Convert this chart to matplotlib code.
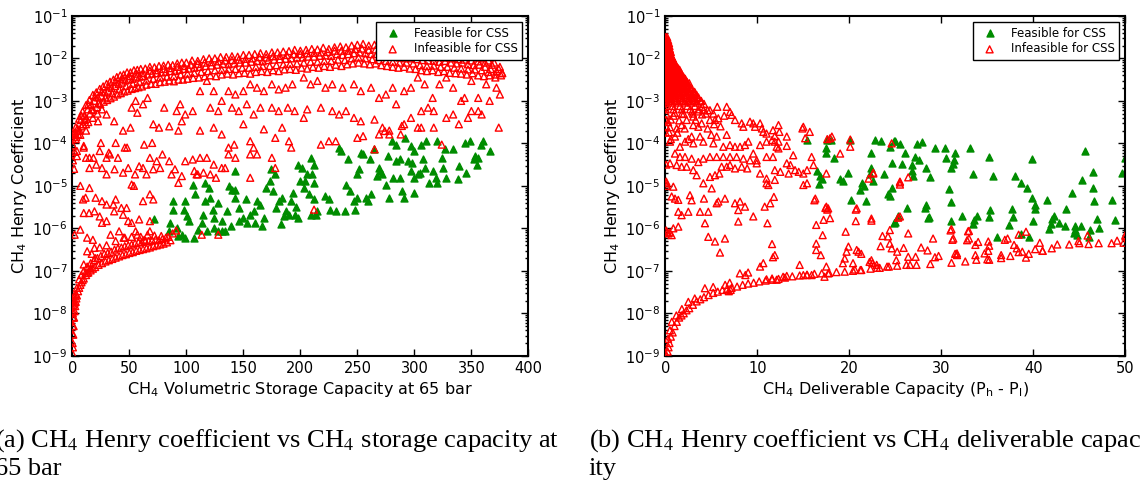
import numpy as np
import matplotlib.pyplot as plt

# points as (x, log10 of CH4 Henry coefficient)

# (a) storage capacity at 65 bar
a_feasible = [
    (72, -5.79), (88.4, -5.35), (88.4, -5.56), (86, -5.87), (85, -6.07), (91.5, -5.99),
    (93, -6.19), (96, -6.15), (99, -6.22), (99, -5.36), (98, -5.56), (101, -5.72),
    (102.5, -5.83), (105.6, -4.97), (108, -5.2), (107, -6.22), (110, -6.03), (113.5, -5.87),
    (115, -5.68), (116.6, -5.36), (116.6, -4.93), (120, -5.05), (121, -5.28), (123, -5.56),
    (124.5, -5.76), (118, -6.07), (124.5, -5.99), (127.6, -6.07), (131, -6.07), (134, -6.07),
    (131, -5.83), (135.4, -5.6), (137, -5.0), (140, -5.09), (143, -5.09), (143, -4.65),
    (143, -5.28), (146, -5.52), (146, -5.83), (150, -5.76), (153, -5.87), (156, -5.68),
    (159, -5.6), (160.5, -5.87), (162, -5.36), (165, -5.44), (168, -5.76), (170, -5.05),
    (173, -4.89), (174.6, -4.61), (176, -5.13), (178, -4.73), (179, -5.52), (181, -5.36),
    (184, -5.28), (186, -5.72), (187, -5.6), (190, -5.68), (192, -5.36), (193.5, -5.17),
    (195, -5.68), (198, -5.76), (198, -4.5), (200, -4.89), (201, -4.58), (203, -5.05),
    (204.5, -4.89), (206, -4.73), (207.5, -5.2), (209, -4.34), (210.6, -4.73), (212, -4.5),
    (212, -4.93), (212, -5.32), (214, -5.68), (209, -5.68), (215, -5.6), (221.6, -5.24),
    (225, -5.32), (226, -5.56), (231, -5.6), (236, -4.18), (234, -4.1), (239, -5.6),
    (242, -4.38), (240, -4.97), (243.5, -5.13), (247, -5.36), (248, -5.56), (250, -4.73),
    (251.6, -4.61), (253, -4.22), (255, -4.26), (250, -5.28), (257.7, -5.28), (259, -5.36),
    (261, -4.38), (262, -5.2), (265, -4.14), (269, -4.58), (267, -4.77), (270, -4.65),
    (272, -4.73), (275, -4.97), (276.5, -4.3), (278, -5.28), (280, -3.95), (281, -4.81),
    (284, -4.42), (287, -4.38), (287, -4.81), (289, -5.13), (291, -5.28), (292, -3.87),
    (294, -4.42), (297, -4.65), (298, -4.46), (300, -5.17), (300, -4.81), (303, -4.73),
    (305, -4.69), (306, -4.03), (309, -4.58), (310, -3.95), (312.5, -4.93), (316, -4.65),
    (319, -4.81), (320, -3.95), (324, -4.34), (325, -4.58), (327, -4.14), (328, -4.81),
    (334, -4.14), (339, -4.54), (338, -4.85), (344, -3.99), (345.5, -4.69), (349, -3.95),
    (352, -4.38), (353, -4.3), (355, -4.5), (358, -4.03), (360, -3.95), (366, -4.18),
    (356, -4.34), (320, -4.93), (307.5, -4.38), (284, -4.03), (297, -4.07), (300, -4.18),
    (128, -5.4), (152, -5.3), (166, -5.95), (183, -5.9), (196, -5.5), (139, -5.95),
]

a_infeasible_curve = [
    (0.2, -8.95), (0.25, -8.7), (0.3, -8.5), (0.35, -8.3), (0.45, -8.1), (0.6, -7.95),
    (0.8, -7.8), (1.0, -7.7), (0.4, -8.0), (0.6, -7.7), (1.3, -7.6),
    (0.5, -8.8), (0.8, -8.5), (1.1, -8.3), (1.5, -8.1), (2, -7.95), (2.5, -7.83), (3, -7.73),
    (3.5, -7.65), (4, -7.58), (5, -7.48), (6, -7.4), (7, -7.33), (8, -7.27), (9, -7.22),
    (10, -7.18), (12, -7.1), (14, -7.04), (16, -6.99), (18, -6.95), (20, -6.91), (23, -6.86),
    (26, -6.82), (29, -6.78), (32, -6.75), (35, -6.72), (38, -6.69), (41, -6.66), (44, -6.63),
    (47, -6.61), (50, -6.58), (53, -6.56), (56, -6.53), (59, -6.51), (62, -6.49), (65, -6.47),
    (68, -6.45), (71, -6.42), (74, -6.4), (77, -6.38), (80, -6.36), (83, -6.33),
    (1, -8.1), (2, -7.75), (3, -7.55), (4, -7.4), (6, -7.2), (8, -7.1), (10, -7.0), (13, -6.9),
    (16, -6.82), (19, -6.75), (22, -6.7), (25, -6.65), (28, -6.6), (31, -6.58), (34, -6.55),
    (37, -6.5), (40, -6.47), (43, -6.45), (46, -6.42), (49, -6.4), (52, -6.38), (55, -6.35),
    (58, -6.33), (61, -6.32), (64, -6.3), (67, -6.3), (70, -6.28), (73, -6.26), (76, -6.28),
    (79, -6.25), (10, -6.85), (17, -6.6), (24, -6.45), (30, -6.4), (38, -6.3), (45, -6.22),
    (52, -6.2), (60, -6.2), (66, -6.15), (72, -6.17), (78, -6.18), (84, -6.2), (88, -6.12),
    (86, -6.28), (82, -6.22), (91, -6.05), (13, -7.05), (20, -6.7),
]

a_infeasible_band = [
    # upper edge
    (0, -3.9), (3, -3.62), (6, -3.42), (9, -3.25), (12, -3.1), (15, -2.98), (18, -2.86),
    (21, -2.8), (24, -2.72), (27, -2.66), (30, -2.6), (33, -2.55), (36, -2.5), (39, -2.44),
    (42, -2.4), (45, -2.38), (48, -2.33), (51, -2.33), (54, -2.28), (57, -2.27), (60, -2.25),
    (64, -2.24), (68, -2.2), (72, -2.21), (76, -2.18), (80, -2.17), (84, -2.15), (88, -2.16),
    (92, -2.12), (96, -2.1), (100, -2.1), (105, -2.05), (110, -2.06), (115, -2.02), (120, -2.0),
    (125, -2.0), (130, -1.97), (135, -1.97), (140, -1.95), (145, -1.96), (150, -1.92),
    (155, -1.92), (160, -1.9), (165, -1.88), (170, -1.9), (175, -1.86), (180, -1.86),
    (185, -1.84), (190, -1.83), (195, -1.8), (200, -1.82), (205, -1.8), (210, -1.78),
    (215, -1.79), (220, -1.75), (225, -1.78), (230, -1.74), (235, -1.72), (240, -1.74),
    (245, -1.7), (250, -1.68), (255, -1.66), (260, -1.7), (265, -1.68), (270, -1.72),
    (275, -1.72), (280, -1.75), (285, -1.76), (290, -1.8), (295, -1.8), (300, -1.82),
    (305, -1.85), (310, -1.84), (315, -1.88), (320, -1.86), (325, -1.9), (330, -1.88),
    (335, -1.92), (340, -1.92), (345, -1.95), (350, -1.96), (355, -1.98), (360, -2.0),
    (365, -2.05), (370, -2.1), (375, -2.2),
    # between upper edge and middle
    (2, -3.75), (8, -3.35), (14, -3.08), (20, -2.9), (26, -2.78), (32, -2.66), (38, -2.55),
    (44, -2.48), (50, -2.42), (56, -2.36), (62, -2.34), (68, -2.29), (74, -2.28), (80, -2.25),
    (86, -2.23), (92, -2.2), (98, -2.18), (104, -2.15), (110, -2.13), (116, -2.1),
    (122, -2.09), (128, -2.07), (134, -2.05), (140, -2.04), (146, -2.03), (152, -2.01),
    (158, -2.0), (164, -1.97), (170, -1.98), (176, -1.95), (182, -1.94), (188, -1.92),
    (194, -1.9), (200, -1.9), (206, -1.88), (212, -1.87), (218, -1.86), (224, -1.85),
    (230, -1.82), (236, -1.82), (242, -1.82), (248, -1.78), (254, -1.77), (260, -1.8),
    (266, -1.79), (272, -1.82), (278, -1.85), (284, -1.86), (290, -1.9), (296, -1.9),
    (302, -1.92), (308, -1.95), (314, -1.96), (320, -1.97), (326, -1.98), (332, -2.0),
    (338, -2.02), (344, -2.03), (350, -2.05), (356, -2.07), (362, -2.1), (368, -2.15),
    (374, -2.25),
    # middle
    (1.5, -3.85), (4.5, -3.65), (7.5, -3.45), (10.5, -3.35), (13.5, -3.2), (16.5, -3.1),
    (19.5, -3.0), (22.5, -2.92), (25.5, -2.88), (28.5, -2.8), (31.5, -2.76), (34.5, -2.7),
    (37.5, -2.65), (40.5, -2.6), (43.5, -2.57), (46.5, -2.52), (49.5, -2.5), (53, -2.48),
    (56, -2.45), (59, -2.43), (62, -2.42), (66, -2.38), (70, -2.36), (74, -2.35), (78, -2.33),
    (82, -2.32), (86, -2.3), (90, -2.3), (94, -2.27), (98, -2.25), (102, -2.24), (107, -2.22),
    (112, -2.2), (117, -2.18), (122, -2.17), (127, -2.15), (132, -2.13), (137, -2.14),
    (142, -2.12), (147, -2.1), (152, -2.1), (157, -2.08), (162, -2.06), (167, -2.07),
    (172, -2.04), (177, -2.03), (182, -2.02), (187, -2.01), (192, -2.0), (197, -1.98),
    (202, -1.98), (207, -1.96), (212, -1.96), (217, -1.94), (222, -1.93), (227, -1.94),
    (232, -1.9), (237, -1.92), (242, -1.9), (247, -1.88), (252, -1.86), (257, -1.88),
    (262, -1.9), (267, -1.9), (272, -1.92), (277, -1.95), (282, -1.96), (287, -1.98),
    (292, -2.0), (297, -2.0), (302, -2.02), (307, -2.04), (312, -2.05), (317, -2.06),
    (322, -2.08), (327, -2.06), (332, -2.1), (337, -2.12), (342, -2.1), (347, -2.14),
    (352, -2.16), (357, -2.15), (362, -2.2), (367, -2.25), (372, -2.3), (377, -2.35),
    # between middle and lower edge
    (5, -3.78), (11, -3.45), (17, -3.2), (23, -3.05), (29, -2.92), (35, -2.82), (41, -2.73),
    (47, -2.65), (53, -2.6), (59, -2.56), (65, -2.52), (71, -2.48), (77, -2.45), (83, -2.43),
    (89, -2.42), (95, -2.38), (101, -2.36), (107, -2.34), (113, -2.32), (119, -2.3),
    (125, -2.28), (131, -2.27), (137, -2.25), (143, -2.25), (149, -2.22), (155, -2.22),
    (161, -2.2), (167, -2.18), (173, -2.18), (179, -2.16), (185, -2.14), (191, -2.13),
    (197, -2.12), (203, -2.1), (209, -2.08), (215, -2.08), (221, -2.06), (227, -2.06),
    (233, -2.03), (239, -2.04), (245, -2.0), (251, -1.98), (257, -2.0), (263, -2.02),
    (269, -2.04), (275, -2.06), (281, -2.08), (287, -2.1), (293, -2.1), (299, -2.12),
    (305, -2.16), (311, -2.18), (317, -2.17), (323, -2.2), (329, -2.2), (335, -2.22),
    (341, -2.24), (347, -2.26), (353, -2.26), (359, -2.28), (365, -2.32), (371, -2.38),
    # lower edge
    (0.5, -4.05), (3.5, -3.85), (6.5, -3.7), (9.5, -3.55), (12.5, -3.42), (15.5, -3.3),
    (18.5, -3.22), (21.5, -3.15), (24.5, -3.08), (27.5, -3.02), (30.5, -2.98), (33.5, -2.94),
    (36.5, -2.9), (39.5, -2.85), (42.5, -2.82), (45.5, -2.78), (48.5, -2.76), (52, -2.72),
    (55, -2.7), (58, -2.68), (61, -2.66), (65, -2.62), (69, -2.6), (73, -2.6), (77, -2.56),
    (81, -2.55), (85, -2.52), (89, -2.54), (93, -2.5), (97, -2.5), (101, -2.48), (106, -2.46),
    (111, -2.45), (116, -2.42), (121, -2.4), (126, -2.42), (131, -2.38), (136, -2.36),
    (141, -2.38), (146, -2.35), (151, -2.34), (156, -2.36), (161, -2.32), (166, -2.3),
    (171, -2.32), (176, -2.28), (181, -2.3), (186, -2.26), (191, -2.25), (196, -2.27),
    (201, -2.22), (206, -2.24), (211, -2.2), (216, -2.22), (221, -2.18), (226, -2.2),
    (231, -2.15), (236, -2.18), (241, -2.14), (246, -2.12), (251, -2.1), (256, -2.12),
    (261, -2.14), (266, -2.12), (271, -2.16), (276, -2.18), (281, -2.2), (286, -2.22),
    (291, -2.2), (296, -2.24), (301, -2.25), (306, -2.28), (311, -2.3), (316, -2.28),
    (321, -2.32), (326, -2.3), (331, -2.34), (336, -2.35), (341, -2.36), (346, -2.38),
    (351, -2.35), (356, -2.4), (361, -2.42), (366, -2.4), (371, -2.45), (376, -2.4),
]

a_infeasible_scatter = [
    (2, -3.75), (4, -4.18), (10, -4.1), (12, -4.34), (15, -4.34), (18.5, -4.34), (24, -4.18),
    (30, -4.34), (33, -4.26), (40, -4.34), (46, -4.1), (48, -4.1), (5, -3.7), (12, -3.55),
    (22.5, -3.48), (30, -3.32), (36.7, -3.48), (44.5, -3.7), (51, -3.63), (10, -4.06),
    (25, -3.99), (32, -4.22), (38, -3.99), (15, -4.58), (21, -4.5), (26, -4.58), (30, -4.73),
    (37, -4.61), (44.5, -4.69), (49, -4.58), (55, -4.73), (62, -4.58), (65, -4.73),
    (58.6, -4.54), (7, -5.0), (15, -5.05), (11.6, -5.28), (9.4, -5.32), (20.4, -5.28),
    (26, -5.36), (30, -5.44), (36, -5.44), (38, -5.32), (43, -5.52), (47.6, -5.52),
    (52, -4.97), (54, -5.0), (62, -5.36), (71, -5.32), (68, -5.2), (10, -5.64), (14.7, -5.64),
    (19.4, -5.6), (24, -5.72), (30, -5.83), (36.7, -5.6), (44.5, -5.68), (49, -5.83),
    (52, -5.87), (58.6, -5.79), (68, -5.83), (2, -6.15), (7, -6.03), (13, -6.22), (18, -6.27),
    (26, -5.87), (33.5, -6.15), (41, -6.07), (46, -6.22), (55.5, -6.07), (57, -6.15),
    (63, -6.27), (68, -6.07), (13, -6.54), (19.4, -6.46), (11.6, -7.05), (16, -6.93),
    (1, -3.8), (3, -3.9), (2, -4.2), (7, -3.8), (4, -4.3), (8, -3.6), (12, -3.7), (1.5, -4.6),
    (0.5, -4.4), (14, -3.5), (18, -3.4), (22, -3.3), (26, -3.2),
    (52, -3.16), (57, -3.28), (62, -3.08), (55.5, -3.0), (66, -2.93), (71, -3.55), (76, -3.63),
    (80.6, -3.16), (85, -3.6), (91.5, -3.24), (96, -3.48), (93, -3.7), (94.6, -3.08),
    (99, -3.32), (105.6, -3.24), (63, -4.03), (70, -3.99), (74, -4.42), (68, -4.34),
    (79, -4.26), (71, -4.61), (77, -4.58), (85, -4.42), (87, -4.73), (90, -4.61), (93, -4.93),
    (96, -4.77), (99, -4.42), (105.6, -4.38), (107, -4.65), (110, -4.73),
    (112, -2.77), (118, -2.53), (124, -2.77), (131, -3.0), (137, -2.77), (143, -2.85),
    (150, -2.77), (156, -2.61), (162, -2.69), (168, -2.77), (175, -2.61), (181, -2.73),
    (187, -2.69), (193, -2.61), (121, -3.16), (128, -3.24), (140, -3.16), (146, -3.24),
    (153, -3.08), (159, -3.32), (165, -3.16), (175, -3.16), (181, -3.24), (189, -3.16),
    (195, -3.24), (203, -3.4), (206, -3.2), (112, -3.7), (124, -3.63), (131, -3.79),
    (137, -4.1), (142, -4.03), (150, -3.55), (156, -3.95), (159, -4.1), (168, -3.67),
    (178, -3.87), (184, -3.63), (190, -3.95), (192, -4.1), (112, -4.34), (118, -4.34),
    (124, -4.5), (131, -4.58), (137, -4.26), (143, -4.34), (156, -4.26), (162, -4.26),
    (175, -4.34), (178, -4.58), (109, -4.73), (115, -4.69), (121, -4.73), (126, -4.81),
    (134, -4.58), (156, -4.81), (128, -6.15), (113.5, -6.15),
    (203, -2.45), (209, -2.61), (215, -2.53), (222, -2.69), (228, -2.61), (237, -2.69),
    (247, -2.61), (253, -2.77), (262, -2.69), (269, -2.93), (275, -2.85), (281, -2.69),
    (291, -2.77), (297, -2.69), (218, -3.16), (228, -3.24), (234, -3.32), (240, -3.24),
    (247, -3.4), (253, -3.48), (265, -3.44), (272, -3.63), (278, -3.7), (284, -3.08),
    (291, -3.55), (297, -3.4), (303, -3.63), (218, -4.03), (225, -3.95), (231, -3.95),
    (250, -3.87), (255, -3.83), (265, -4.14), (269, -3.79), (274, -3.71), (278, -3.79),
    (288, -3.79), (289, -3.59), (212, -5.56),
    (303, -2.45), (309, -2.61), (316, -2.93), (322, -2.61), (328, -2.45), (334, -2.69),
    (341, -3.0), (344, -2.93), (350, -2.53), (356, -2.93), (363, -2.61), (366, -3.0),
    (372, -2.69), (375, -2.85), (377, -2.34), (306, -3.24), (312, -3.16), (317, -3.24),
    (328, -3.4), (334, -3.32), (339, -3.55), (347, -3.4), (350, -3.24), (356, -3.24),
    (359, -3.32), (374, -3.63), (306, -3.63), (317, -3.63), (324, -4.03),
]

# (b) deliverable capacity
b_feasible = [
    (15.4, -3.93), (16.5, -4.64), (16.8, -4.77), (16.7, -4.95), (17.0, -4.85), (17.5, -4.1),
    (17.5, -4.22), (17.6, -3.93), (18, -3.93), (18.3, -4.34), (19, -4.85), (19.3, -4.89),
    (19.9, -4.69), (20.1, -3.93), (20.2, -5.34), (21.4, -4.93), (21.6, -5.0), (21.2, -5.09),
    (21.8, -5.35), (22.2, -4.73), (22.4, -4.22), (22.4, -4.58), (22.6, -4.89), (22.8, -3.93),
    (23.4, -3.95), (23.8, -4.73), (24.2, -5.2), (24.6, -5.05), (24.4, -5.24), (24.4, -4.09),
    (24.6, -4.46), (24.9, -3.95), (24.9, -5.87), (25.3, -5.72),
    (25, -3.94), (25.5, -4.01), (27.3, -4.02), (27.9, -3.98), (26.1, -4.23), (25.7, -4.49),
    (27.1, -4.31), (27.6, -4.39), (26.8, -4.51), (26.8, -4.65), (26.9, -4.77), (28.3, -4.57),
    (28.8, -4.8), (29.3, -4.12), (30.4, -4.12), (30.5, -4.34), (31.5, -4.23), (31.4, -4.39),
    (31.3, -4.49), (31.1, -4.59), (33.1, -4.12), (35.2, -4.33), (33.4, -4.72), (35.6, -4.77),
    (30.8, -5.07), (31.1, -5.39), (26.3, -5.53), (28.2, -5.53), (28.3, -5.45), (28.5, -5.76),
    (28.7, -5.74), (25, -5.84), (31, -5.82), (32.2, -5.71), (33.6, -5.8), (33.9, -5.71),
    (33.4, -5.9), (35.3, -5.58), (35.2, -5.74), (36, -6.2), (37.3, -5.92), (37.7, -5.54),
    (37.8, -5.74), (38, -4.76), (38.7, -4.94), (39.3, -5.06), (39.8, -5.28), (40.2, -5.45),
    (40.2, -5.55), (40, -5.83), (39.9, -4.38), (41.5, -5.33), (38.7, -6.14), (39.5, -6.2),
    (41.7, -6.02), (41.9, -5.9), (42.2, -5.72), (42, -5.79), (42.8, -5.88), (43.4, -5.94),
    (43.5, -5.55), (44.2, -5.18), (44.5, -5.94), (44.5, -6.04), (44.4, -6.12), (44.7, -6.16),
    (45.2, -5.94), (45.3, -4.86), (45.6, -4.17), (46, -6.2), (46.2, -6.05), (46.5, -5.06),
    (46.5, -4.67), (46.6, -5.35), (46.9, -5.77), (47.1, -6.0), (48.5, -5.33), (48.9, -5.8),
    (49.6, -4.7), (50, -4.35),
]

b_infeasible_spike = [
    (0.05, -1.5), (0.2, -1.5), (0.1, -1.57), (0.3, -1.57), (0.05, -1.64), (0.25, -1.64),
    (0.4, -1.64), (0.1, -1.71), (0.3, -1.71), (0.45, -1.71), (0.05, -1.78), (0.25, -1.78),
    (0.5, -1.78), (0.1, -1.85), (0.35, -1.85), (0.6, -1.85), (0.05, -1.92), (0.3, -1.92),
    (0.6, -1.92), (0.1, -1.99), (0.4, -1.99), (0.75, -1.99), (0.05, -2.06), (0.35, -2.06),
    (0.65, -2.06), (0.9, -2.06), (0.1, -2.13), (0.45, -2.13), (0.8, -2.13), (1.1, -2.13),
    (0.05, -2.2), (0.4, -2.2), (0.8, -2.2), (1.2, -2.2), (0.1, -2.27), (0.5, -2.27),
    (0.9, -2.27), (1.3, -2.27), (1.55, -2.27), (0.05, -2.34), (0.45, -2.34), (0.85, -2.34),
    (1.25, -2.34), (1.7, -2.34), (0.1, -2.41), (0.5, -2.41), (0.95, -2.41), (1.4, -2.41),
    (1.85, -2.41), (0.05, -2.48), (0.45, -2.48), (0.9, -2.48), (1.35, -2.48), (1.8, -2.48),
    (2.15, -2.48), (0.1, -2.55), (0.55, -2.55), (1.0, -2.55), (1.5, -2.55), (2.0, -2.55),
    (2.35, -2.55), (0.05, -2.62), (0.5, -2.62), (0.95, -2.62), (1.45, -2.62), (1.95, -2.62),
    (2.5, -2.62), (0.1, -2.69), (0.55, -2.69), (1.05, -2.69), (1.6, -2.69), (2.15, -2.69),
    (2.7, -2.69), (0.05, -2.76), (0.5, -2.76), (1.0, -2.76), (1.55, -2.76), (2.1, -2.76),
    (2.65, -2.76), (3.1, -2.78), (0.1, -2.83), (0.6, -2.83), (1.15, -2.83), (1.7, -2.83),
    (2.3, -2.83), (2.9, -2.83), (3.4, -2.86), (0.05, -2.9), (0.55, -2.9), (1.1, -2.9),
    (1.7, -2.9), (2.3, -2.9), (2.9, -2.9), (3.6, -2.92), (0.1, -2.97), (0.65, -2.97),
    (1.25, -2.97), (1.9, -2.97), (2.55, -2.97), (3.2, -2.97), (3.9, -3.0), (0.05, -3.04),
    (0.7, -3.04), (1.4, -3.04), (2.1, -3.04), (2.8, -3.04), (3.5, -3.04), (4.2, -3.07),
    (0.1, -3.12), (0.8, -3.12), (1.6, -3.12), (2.4, -3.12), (3.2, -3.12), (4.0, -3.14),
    (0.05, -3.2), (0.9, -3.2), (1.8, -3.2), (2.7, -3.2), (3.6, -3.2), (4.6, -3.22),
    # in between the rows above
    (0.12, -1.535), (0.2, -1.605), (0.15, -1.675), (0.33, -1.675), (0.2, -1.745),
    (0.38, -1.745), (0.15, -1.815), (0.4, -1.815), (0.2, -1.885), (0.48, -1.885),
    (0.15, -1.955), (0.45, -1.955), (0.7, -1.955), (0.25, -2.025), (0.55, -2.025),
    (0.82, -2.025), (0.2, -2.095), (0.55, -2.095), (0.95, -2.095), (0.25, -2.165),
    (0.6, -2.165), (1.0, -2.165), (0.3, -2.235), (0.7, -2.235), (1.1, -2.235), (1.4, -2.235),
    (0.25, -2.305), (0.65, -2.305), (1.05, -2.305), (1.5, -2.305), (0.3, -2.375),
    (0.7, -2.375), (1.15, -2.375), (1.6, -2.375), (0.25, -2.445), (0.7, -2.445),
    (1.15, -2.445), (1.6, -2.445), (2.0, -2.445), (0.3, -2.515), (0.75, -2.515),
    (1.25, -2.515), (1.75, -2.515), (2.2, -2.515), (0.3, -2.585), (0.75, -2.585),
    (1.2, -2.585), (1.7, -2.585), (2.2, -2.585), (2.6, -2.585), (0.3, -2.655), (0.8, -2.655),
    (1.3, -2.655), (1.85, -2.655), (2.4, -2.655), (0.3, -2.725), (0.8, -2.725),
    (1.3, -2.725), (1.85, -2.725), (2.4, -2.725), (2.9, -2.725), (0.35, -2.795),
    (0.85, -2.795), (1.4, -2.795), (2.0, -2.795), (2.6, -2.795), (3.2, -2.795),
    (0.3, -2.865), (0.85, -2.865), (1.4, -2.865), (2.0, -2.865), (2.6, -2.865),
    (3.2, -2.865), (0.35, -2.935), (0.95, -2.935), (1.55, -2.935), (2.2, -2.935),
    (2.85, -2.935), (3.5, -2.935), (0.4, -3.005), (1.05, -3.005), (1.75, -3.005),
    (2.45, -3.005), (3.15, -3.005), (3.85, -3.005),
    # looser points under the spike
    (0.1, -3.3), (1.0, -3.28), (2.0, -3.31), (3.0, -3.3), (4.0, -3.32), (0.05, -3.45),
    (0.6, -3.44), (1.5, -3.46), (0.1, -3.6), (0.5, -3.62), (0.05, -3.75), (0.4, -3.74),
    (0.3, -3.5), (0.6, -3.9), (0.9, -3.35), (1.3, -3.75), (1.8, -3.3), (2.1, -3.65),
    (2.5, -3.9), (2.9, -3.25), (3.3, -3.45), (3.6, -3.25), (4.4, -3.3), (4.6, -3.65),
    (5.0, -3.8), (5.3, -3.55), (6.0, -3.6), (6.4, -3.35),
]

b_infeasible_curve = [
    (0.15, -9.0), (0.25, -8.9), (0.35, -8.8), (0.45, -8.7), (0.6, -8.55), (0.8, -8.45),
    (1.0, -8.3), (1.25, -8.2), (1.5, -8.1), (1.75, -8.05), (2.0, -8.0), (2.3, -7.93),
    (2.6, -7.88), (3.0, -7.8), (3.4, -7.72), (3.8, -7.67), (4.2, -7.62), (4.7, -7.57),
    (5.2, -7.52), (5.7, -7.49), (6.2, -7.45), (6.7, -7.43), (7.2, -7.4), (7.8, -7.37),
    (8.4, -7.33), (9.0, -7.3), (9.6, -7.28), (10.2, -7.25), (10.9, -7.23), (11.6, -7.21),
    (12.3, -7.19), (13.0, -7.16), (13.8, -7.13), (14.6, -7.11), (15.4, -7.09), (16.2, -7.07),
    (17.0, -7.06), (17.8, -7.05), (18.6, -7.03), (19.5, -7.02), (20.4, -7.0), (21.3, -6.98),
    (22.3, -6.95), (23.3, -6.93), (24.3, -6.9),
    (0.3, -8.6), (0.5, -8.4), (0.7, -8.2), (1.2, -8.05), (1.8, -7.9), (2.5, -7.73),
    (3.2, -7.65), (4.3, -7.41), (5.2, -7.38), (6.5, -7.33), (7.0, -7.28), (7.1, -7.45),
    (6.9, -7.48), (8.1, -7.06), (8.7, -7.1), (9.0, -7.04), (10.3, -6.9), (10.65, -6.82),
    (11.7, -6.68), (11.9, -6.63), (11.6, -6.37), (14.6, -6.86), (15.0, -7.1), (15.4, -7.1),
    (15.9, -7.1), (13.2, -7.12), (12.8, -7.14), (12.1, -7.21), (11.6, -7.18), (11.0, -7.2),
    (25.2, -6.88), (26.2, -6.86), (26.6, -6.86), (27.3, -6.86), (28.8, -6.84), (31.1, -6.81),
    (31.7, -6.63), (32.6, -6.78), (33.8, -6.74), (35, -6.73), (35.2, -6.74), (36.5, -6.7),
    (37.5, -6.65), (39.2, -6.69), (41, -6.53), (42, -6.47), (42.6, -6.38), (43.9, -6.38),
    (45, -6.35), (46, -6.37), (47.1, -6.35), (48.5, -6.35), (49.1, -6.29), (49.8, -6.34),
    (50, -6.16),
]

b_infeasible_scatter = [
    (0.14, -4.94), (0.87, -5.02), (0.69, -5.25), (1.05, -5.3), (1.41, -5.33), (0.33, -6.12),
    (0.69, -6.16), (0.87, -6.0), (1.41, -5.96), (1.41, -5.61), (1.77, -5.69), (2.5, -5.61),
    (2.68, -5.22), (2.86, -5.34), (3.77, -5.61), (4.31, -5.88), (4.67, -5.61), (4.2, -5.3),
    (5.04, -5.06), (4.67, -6.2), (5.4, -6.31), (5.94, -6.57), (6.48, -6.24), (5.58, -5.41),
    (5.76, -5.37), (6.48, -5.3), (7.57, -5.41), (7.93, -5.57), (8.12, -5.37), (7.93, -5.84),
    (8.66, -5.49), (9.56, -5.72), (10.8, -5.49), (11.1, -5.88), (11.4, -5.41), (11.8, -5.26),
    (11.2, -4.98), (11.9, -4.86), (11.0, -4.83), (10.3, -4.71), (9.93, -4.47), (8.9, -4.59),
    (8.3, -4.55), (7.57, -4.59), (7.03, -4.51), (6.67, -4.55), (6.12, -4.55), (5.87, -4.71),
    (5.4, -4.75), (4.85, -4.79), (4.13, -4.94), (3.04, -4.63), (3.4, -4.75), (2.32, -4.55),
    (1.77, -4.55), (1.23, -4.51), (0.51, -4.47), (0.1, -4.5), (0.1, -4.9), (0.15, -5.0),
    (0.1, -6.05), (0.2, -6.1), (0.5, -6.1),
    (1.05, -4.24), (1.59, -4.32), (2.14, -4.32), (2.86, -4.36), (3.59, -4.44), (4.13, -4.36),
    (4.85, -4.32), (5.58, -4.32), (6.3, -4.32), (7.03, -4.32), (7.75, -4.32), (8.48, -4.36),
    (9.2, -4.4), (9.93, -4.4), (11.0, -4.32), (11.7, -4.32), (13.2, -4.47), (13.9, -4.28),
    (14.1, -4.63), (15, -4.71), (15.4, -4.63), (15.9, -4.32), (16.1, -4.51), (14.5, -4.67),
    (13.6, -4.51), (12.5, -4.67), (11.9, -4.63), (11.0, -4.94), (13.4, -4.71), (15.4, -4.94),
    (17.5, -4.71), (16.3, -5.3), (17.5, -5.49), (17.7, -5.53), (17.9, -5.76), (17.2, -5.8),
    (17.1, -6.16), (16.4, -5.92), (16.4, -6.36), (16.4, -6.51), (16.9, -6.63), (17.5, -6.9),
    (17.3, -7.14), (17.7, -7.06), (19, -4.24), (19.6, -6.08), (19.7, -6.55), (19.9, -6.43),
    (20.8, -6.51), (21, -6.55), (21.3, -6.6), (19.5, -6.71), (19.3, -6.82), (20.4, -6.82),
    (21.2, -6.98), (20.6, -6.97), (22.4, -6.75), (22.97, -6.86), (22.4, -5.77), (20.8, -5.53),
    (22.6, -4.71), (24.4, -6.04), (24.4, -6.36), (24.6, -6.47), (23.6, -6.18), (24.1, -6.9),
    (25.1, -6.75), (25.5, -4.9),
    (0.51, -3.96), (1.05, -3.84), (1.59, -4.08), (2.14, -3.96), (2.86, -3.84), (3.04, -4.0),
    (3.77, -3.84), (4.13, -3.96), (5.22, -4.0), (5.58, -3.84), (6.3, -4.08), (6.67, -3.8),
    (7.03, -4.04), (7.57, -4.08), (8.12, -4.08), (8.66, -4.04), (9.02, -3.96), (9.56, -4.24),
    (10.3, -4.04), (11.0, -3.96), (11.6, -3.92), (11.9, -3.96), (12.1, -4.08), (12.3, -4.12),
    (13.2, -3.84), (15, -3.61), (14.9, -3.65), (15.2, -3.88), (15.7, -3.73), (17.9, -3.88),
    (18.1, -3.84), (20.1, -4.08), (20.1, -3.91), (24.6, -4.0), (17.6, -3.9),
    (1.23, -3.65), (1.77, -3.57), (2.32, -3.45), (3.04, -3.57), (3.59, -3.61), (3.95, -3.53),
    (4.85, -3.45), (5.4, -3.45), (5.76, -3.41), (7.03, -3.26), (7.21, -3.33), (7.57, -3.45),
    (8.3, -3.53), (8.48, -3.61), (9.2, -3.49), (9.56, -3.53), (9.75, -3.61), (10.3, -3.53),
    (10.5, -3.65), (10.65, -3.73), (11.0, -3.77), (11.7, -3.69), (12.3, -3.57), (11.9, -3.83),
    (12.3, -3.96), (13.2, -4.06), (12.4, -3.73), (3.04, -3.37), (4.13, -3.22), (4.85, -3.22),
    (5.22, -3.3), (5.65, -3.14), (6.67, -3.14),
    (15.0, -4.98), (16.2, -5.34), (17.4, -5.52), (17.6, -5.56), (20.7, -5.56), (22.1, -4.83),
    (22.6, -4.69), (22.4, -5.82), (20.7, -5.83), (25.5, -4.97), (24.2, -6.19), (23.4, -6.42),
    (25.3, -5.75), (22.5, -6.82), (23.0, -6.93), (22.2, -6.79),
    (25.5, -4.92), (26.4, -4.8), (25.5, -5.72), (26.4, -6.12), (25.2, -6.55), (25.9, -6.46),
    (26.4, -6.67), (27.2, -6.67), (27.8, -6.45), (28.5, -6.52), (29.1, -6.24), (29.3, -6.68),
    (29.7, -6.65), (31.1, -6.02), (31.3, -6.24), (31.5, -6.6), (31.7, -6.59), (33, -6.06),
    (33, -6.24), (33.7, -6.39), (33.7, -6.63), (34, -6.32), (34.7, -6.59), (35.1, -6.31),
    (35.2, -6.41), (35.1, -6.53), (36.5, -6.63), (37.2, -6.24), (37.9, -6.39), (38.2, -6.47),
    (38.4, -6.56), (38.8, -6.55), (39.2, -6.08), (39.5, -6.6), (40.2, -6.49), (40.7, -6.34),
    (41, -6.53), (31.0, -6.05), (31.2, -6.27), (32.9, -6.07), (32.8, -6.28), (36.9, -6.27),
    (38.4, -6.15), (44.9, -6.3), (45.9, -6.17), (50, -6.19),
]


def unpack(*groups):
    pts = np.array([p for g in groups for p in g], dtype=float)
    return pts[:, 0], 10.0 ** pts[:, 1]


plt.rcParams['font.family'] = 'DejaVu Sans'
plt.rcParams['mathtext.fontset'] = 'dejavusans'

fig = plt.figure(figsize=(11.41, 4.87), dpi=100)
ax1 = fig.add_axes([0.0634, 0.2694, 0.3997, 0.698])
ax2 = fig.add_axes([0.5831, 0.2694, 0.4032, 0.698])

panels = [
    (ax1, [a_feasible],
     [a_infeasible_curve, a_infeasible_band, a_infeasible_scatter],
     400, 50, 'CH$_4$ Volumetric Storage Capacity at 65 bar'),
    (ax2, [b_feasible],
     [b_infeasible_spike, b_infeasible_curve, b_infeasible_scatter],
     50, 10, r'CH$_4$ Deliverable Capacity (P$_{\rm h}$ - P$_{\rm l}$)'),
]

for ax, feas, infeas, xmax, xstep, xlabel in panels:
    fx, fy = unpack(*feas)
    ix, iy = unpack(*infeas)
    ax.scatter(fx, fy, marker='^', s=25, c='#008c00', edgecolors='#008c00',
               linewidths=1, label='Feasible for CSS', zorder=2)
    ax.scatter(ix, iy, marker='^', s=25, facecolors='none', edgecolors='r',
               linewidths=1, label='Infeasible for CSS', zorder=3)
    ax.set_yscale('log')
    ax.set_ylim(1e-9, 1e-1)
    ax.set_xlim(0, xmax)
    ax.set_xticks(np.arange(0, xmax + 1, xstep))
    ax.tick_params(which='both', direction='in', top=True, right=True,
                   labelsize=10.5, width=1)
    ax.tick_params(which='major', length=5)
    ax.tick_params(which='minor', length=2.5)
    for sp in ax.spines.values():
        sp.set_linewidth(1.5)
    ax.set_xlabel(xlabel, fontsize=11.5, labelpad=3)
    ax.set_ylabel('CH$_4$ Henry Coefficient', fontsize=11.5, labelpad=2)
    leg = ax.legend(loc='upper right', scatterpoints=1, fontsize=8.5, fancybox=False,
                    labelspacing=0.25, borderpad=0.4, handletextpad=0.8, framealpha=1)
    leg.get_frame().set_edgecolor('black')
    leg.get_frame().set_linewidth(1)

# captions sit under the panels and run off the image edges, as in the source page
cap = dict(family='Liberation Serif', fontsize=19, math_fontfamily='stix', va='baseline')
fig.text(-0.004, 0.082, '(a) CH$_4$ Henry coefficient vs CH$_4$ storage capacity at', **cap)
fig.text(-0.004, 0.025, '65 bar', **cap)
fig.text(0.516, 0.082, '(b) CH$_4$ Henry coefficient vs CH$_4$ deliverable capac-', **cap)
fig.text(0.516, 0.025, 'ity', **cap)

fig.savefig('out.png', dpi=100)
